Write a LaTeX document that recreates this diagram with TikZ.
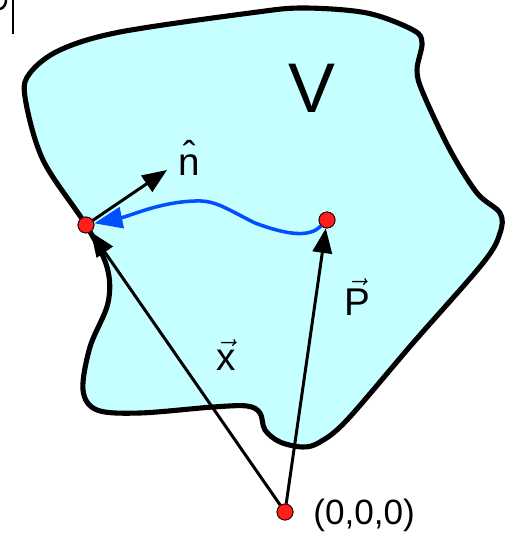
\documentclass[tikz,border=0pt]{standalone}
\usepackage{fontspec}
\setmainfont{Liberation Sans}
\usetikzlibrary{arrows.meta}
\definecolor{regionfill}{RGB}{198,255,255}
\definecolor{dotred}{RGB}{255,30,30}
\definecolor{pathblue}{RGB}{0,80,255}
\begin{document}
\begin{tikzpicture}[x=0.02cm,y=-0.02cm,
  outline/.style={draw=black,line width=2.9pt,fill=regionfill,line join=round},
  dot/.style={circle,fill=dotred,draw=black!80!red,line width=0.5pt,minimum size=0.32cm,inner sep=0pt},
  vecline/.style={draw=black,line width=1.7pt,-{Triangle[length=14pt,width=11pt]}},
  blueline/.style={draw=pathblue,line width=2pt,-{Triangle[length=16pt,width=12pt]}},
  lbl/.style={inner sep=0pt,font=\fontsize{22}{26}\selectfont}]
\useasboundingbox (0,0) rectangle (504,533);
% fragment at top-left
\draw[line width=1.4pt] (13,0) -- (13,34);
\draw[line width=1.4pt] (0,9) .. controls (4,8) and (6,4) .. (6,0);
% region
\draw[outline] plot[smooth cycle,tension=0.55] coordinates {
 (25,97) (30,73) (60,50) (120,32) (250,13) (303,8) (367,13) (413,30) (422,43)
 (417,70) (423,93) (450,150) (477,193) (500,213) (500,233) (483,263)
 (413,343) (347,420) (320,442) (303,447) (280,442) (265,430) (260,413)
 (247,406) (213,407) (140,413) (97,410) (83,390) (90,347) (108,303)
 (107,267) (86,225) (43,160)};
% labels
\node[inner sep=0pt,font=\fontsize{40}{48}\selectfont] (V) at (312,88) {V};
\node[lbl] (nlbl) at (189,158) {\^n};
\node[lbl] (Plbl) at (357,297) {$\vec{\mbox{P}}$};
\node[lbl] (xlbl) at (226,355) {$\vec{\mbox{x}}$};
% points
\node[dot] (A) at (86,225) {};
\node[dot] (B) at (327,220) {};
\node[dot] (O) at (285,512) {};
\node[inner sep=0pt,anchor=west,font=\fontsize{20}{24}\selectfont] (Olbl) at (313,515) {(0,0,0)};
\coordinate (ntip) at (167,170);
\coordinate (w1) at (255,223);
\coordinate (w2) at (195,201);
% vectors
\draw[vecline] (O) -- (A);
\draw[vecline] (O) -- (B);
\draw[vecline] (A) -- (ntip);
\draw[blueline] (B) .. controls (310,237) and (290,236) .. (w1)
  .. controls (225,208) and (215,200) .. (w2)
  .. controls (160,202) and (130,216) .. (A);
% redraw dots on top
\node[dot] at (A) {};
\node[dot] at (B) {};
\node[dot] at (O) {};
\end{tikzpicture}
\end{document}
